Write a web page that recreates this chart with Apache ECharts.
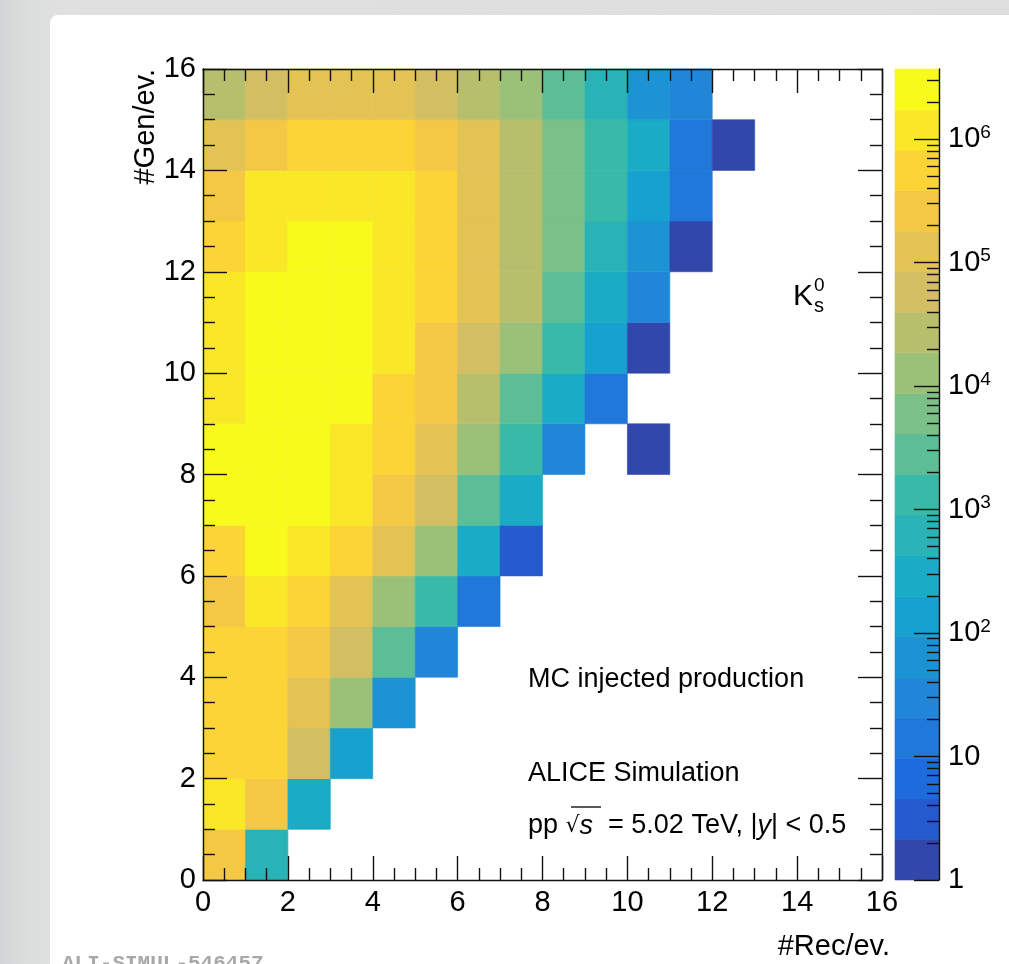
<!DOCTYPE html>
<html>
<head>
<meta charset="utf-8">
<script src="https://cdn.jsdelivr.net/npm/echarts@6/dist/echarts.min.js"></script>
<style>
html,body{margin:0;padding:0;width:1009px;height:964px;overflow:hidden;
  background:linear-gradient(90deg,#d4d5d6 0px,#dcdddd 30px,#e0e0e0 60px,#dedede 100%);}
#panel{position:absolute;left:50px;top:15px;width:1000px;height:1000px;background:#fff;border-radius:8px;}
#c{position:absolute;left:0;top:0;width:1009px;height:964px;}
</style>
</head>
<body>
<div id="panel"></div>
<div id="c"></div>
<script>
// ---- data: counts per event-multiplicity bin, one array per #Gen/ev. row (index = #Rec/ev. bin) ----
const gen15 = [27000, 58000, 124000, 124000, 124000, 58000, 27000, 12800, 2800, 620, 64, 30];
const gen14 = [124000, 264000, 560000, 560000, 560000, 264000, 124000, 27000, 6000, 1300, 290, 14, 1];
const gen13 = [264000, 1200000, 1200000, 1200000, 1200000, 560000, 124000, 27000, 6000, 1300, 137, 14];
const gen12 = [560000, 1200000, 2500000, 2500000, 1200000, 560000, 124000, 27000, 6000, 620, 64, 1];
const gen11 = [1200000, 2500000, 2500000, 2500000, 1200000, 560000, 124000, 27000, 2800, 290, 30];
const gen10 = [1200000, 2500000, 2500000, 2500000, 1200000, 264000, 58000, 12800, 1300, 137, 1];
const gen9  = [1200000, 2500000, 2500000, 2500000, 560000, 264000, 27000, 2800, 290, 14];
const gen8  = [2500000, 2500000, 2500000, 1200000, 560000, 124000, 12800, 1300, 30, null, 1];
const gen7  = [2500000, 2500000, 2500000, 1200000, 264000, 58000, 2800, 290];
const gen6  = [560000, 2500000, 1200000, 560000, 124000, 12800, 290, 3];
const gen5  = [264000, 1200000, 560000, 124000, 12800, 1300, 14];
const gen4  = [560000, 560000, 264000, 58000, 2800, 30];
const gen3  = [560000, 560000, 124000, 12800, 64];
const gen2  = [560000, 560000, 58000, 137];
const gen1  = [1200000, 264000, 290];
const gen0  = [264000, 620];
const genRows = [gen0, gen1, gen2, gen3, gen4, gen5, gen6, gen7, gen8, gen9, gen10, gen11, gen12, gen13, gen14, gen15];

const zMin = 1;            // colour scale minimum
const zMax = 3.7e6;        // colour scale maximum
const nContours = 20;      // number of colour bands
const zDecades = [0, 1, 2, 3, 4, 5, 6];   // colour axis labels: 10^n

// ---- derived ----
const LOG_MIN = Math.log10(zMin), LOG_MAX = Math.log10(zMax);
const BW = (LOG_MAX - LOG_MIN) / nContours;

// ROOT kBird palette
const stops = [0.0, 0.125, 0.25, 0.375, 0.5, 0.625, 0.75, 0.875, 1.0];
const pr = [0.2082, 0.0592, 0.0780, 0.0232, 0.1802, 0.5301, 0.8186, 0.9956, 0.9764];
const pg = [0.1664, 0.3599, 0.5041, 0.6419, 0.7178, 0.7492, 0.7328, 0.7862, 0.9832];
const pb = [0.5293, 0.8684, 0.8385, 0.7914, 0.6425, 0.4662, 0.3499, 0.1968, 0.0539];
function bird(t) {
  let i = 0;
  while (i < stops.length - 2 && t > stops[i + 1]) i++;
  const f = (t - stops[i]) / (stops[i + 1] - stops[i]);
  const c = a => Math.round(14 + 0.94 * 255 * (a[i] + f * (a[i + 1] - a[i])));
  return 'rgb(' + c(pr) + ',' + c(pg) + ',' + c(pb) + ')';
}
function bandColor(k) {
  const idx = Math.floor((k + 0.99) * 255 / nContours);
  return bird(Math.min(1, idx / 254));
}
const pieces = [];
for (let k = 0; k < nContours; k++) {
  const p = { gte: LOG_MIN + k * BW, color: bandColor(k) };
  if (k < nContours - 1) p.lt = LOG_MIN + (k + 1) * BW; else p.lte = LOG_MAX + 1;
  pieces.push(p);
}

const heatData = [];
genRows.forEach((row, y) => row.forEach((v, x) => {
  if (v != null && v > 0) heatData.push([x, y, Math.log10(v)]);
}));
const barData = [];
for (let k = 0; k < nContours; k++) barData.push([LOG_MIN + k * BW, LOG_MIN + (k + 1) * BW, LOG_MIN + (k + 0.5) * BW]);

const minorLogTicks = [];
for (let n = 0; n <= 6; n++) for (let m = 2; m <= 9; m++) {
  const l = n + Math.log10(m);
  if (l < LOG_MAX) minorLogTicks.push(l);
}

const FONT = 'Liberation Sans, Arial, Helvetica, sans-serif';
const INK = '#111';
const lineS = { color: INK, width: 1.4 };

function mainAxis(pos, labels, gridIndex) {
  return {
    type: 'value', gridIndex: gridIndex, position: pos, min: 0, max: 16, interval: 2, z: 5,
    axisLine: { show: true, onZero: false, lineStyle: lineS },
    axisTick: { show: true, inside: true, length: 24, lineStyle: lineS },
    minorTick: { show: true, splitNumber: 4, length: 12, lineStyle: lineS },
    splitLine: { show: false }, minorSplitLine: { show: false },
    axisLabel: { show: labels, fontSize: 29, color: '#000', fontFamily: FONT,
      margin: (pos === 'left' ? 7 : 8) }
  };
}

const chart = echarts.init(document.getElementById('c'), null, { renderer: 'canvas' });
chart.setOption({
  animation: false,
  backgroundColor: 'transparent',
  grid: [
    { left: 203, top: 69, width: 679, height: 811, outerBoundsMode: 'none', containLabel: false },
    { left: 895, top: 69, width: 44, height: 811, outerBoundsMode: 'none', containLabel: false }
  ],
  xAxis: [
    mainAxis('bottom', true, 0),
    mainAxis('top', false, 0),
    { type: 'value', gridIndex: 1, min: 0, max: 1, show: false }
  ],
  yAxis: [
    mainAxis('left', true, 0),
    mainAxis('right', false, 0),
    {
      type: 'value', gridIndex: 1, position: 'right', min: LOG_MIN, max: LOG_MAX, z: 5,
      axisLine: { show: true, onZero: false, lineStyle: lineS },
      axisTick: { show: true, inside: true, length: 25, lineStyle: lineS, customValues: zDecades },
      splitLine: { show: false },
      axisLabel: {
        show: true, margin: 9, customValues: zDecades, color: '#000', fontFamily: FONT,
        formatter: v => v === 0 ? '{b|1}' : (v === 1 ? '{b|10}' : '{b|10}{s|' + v + '}'),
        rich: {
          b: { fontSize: 29, fontFamily: FONT, color: '#000', lineHeight: 32 },
          s: { fontSize: 19, fontFamily: FONT, color: '#000', verticalAlign: 'top', lineHeight: 19 }
        }
      }
    },
    {
      // minor log ticks of the colour axis: a left-type axis shifted onto the right edge of the bar
      type: 'value', gridIndex: 1, position: 'left', offset: -44, min: LOG_MIN, max: LOG_MAX, z: 5,
      axisLine: { show: false, onZero: false },
      axisTick: { show: true, inside: false, length: 12, lineStyle: lineS, customValues: minorLogTicks },
      axisLabel: { show: false }, splitLine: { show: false }
    }
  ],
  visualMap: {
    type: 'piecewise', show: false, dimension: 2, seriesIndex: [0, 1], pieces: pieces
  },
  series: [
    {
      type: 'custom', xAxisIndex: 0, yAxisIndex: 0, data: heatData, silent: true,
      encode: { x: 0, y: 1 },
      renderItem: function (params, api) {
        const x = api.value(0), y = api.value(1);
        const a = api.coord([x, y + 1]), b = api.coord([x + 1, y]);
        const col = api.visual('color');
        return { type: 'rect', shape: { x: a[0], y: a[1], width: b[0] - a[0], height: b[1] - a[1] },
          style: { fill: col, stroke: col, lineWidth: 0.6 } };
      }
    },
    {
      type: 'custom', xAxisIndex: 2, yAxisIndex: 2, data: barData, silent: true,
      encode: { y: [0, 1] },
      renderItem: function (params, api) {
        const a = api.coord([0, api.value(0)]), b = api.coord([1, api.value(1)]);
        const col = api.visual('color');
        return { type: 'rect', shape: { x: a[0], y: b[1], width: b[0] - a[0], height: a[1] - b[1] },
          style: { fill: col, stroke: col, lineWidth: 0.6 } };
      }
    }
  ],
  graphic: [
    { type: 'text', x: 146, y: 69, rotation: Math.PI / 2, z: 10,
      style: { text: '#Gen/ev.', font: '29px ' + FONT, fill: '#000', align: 'right', verticalAlign: 'middle' } },
    { type: 'text', x: 890, y: 947, z: 10,
      style: { text: '#Rec/ev.', font: '29px ' + FONT, fill: '#000', align: 'right', verticalAlign: 'middle' } },
    { type: 'text', x: 793, y: 297, z: 10,
      style: { text: 'K', font: '30px ' + FONT, fill: '#000', align: 'left', verticalAlign: 'middle' } },
    { type: 'text', x: 814, y: 286, z: 10,
      style: { text: '0', font: '19px ' + FONT, fill: '#000', align: 'left', verticalAlign: 'middle' } },
    { type: 'text', x: 814, y: 306, z: 10,
      style: { text: 's', font: '20px ' + FONT, fill: '#000', align: 'left', verticalAlign: 'middle' } },
    { type: 'text', x: 528, y: 680, z: 10,
      style: { text: 'MC injected production', font: '27px ' + FONT, fill: '#000', align: 'left', verticalAlign: 'middle' } },
    { type: 'text', x: 528, y: 774, z: 10,
      style: { text: 'ALICE Simulation', font: '27px ' + FONT, fill: '#000', align: 'left', verticalAlign: 'middle' } },
    { type: 'text', x: 528, y: 826, z: 10,
      style: {
        text: '{t|pp }{r|√}{i|s}{t|  = 5.02 TeV, |}{i|y}{t|| < 0.5}',
        fill: '#000', align: 'left', verticalAlign: 'middle',
        rich: {
          t: { fontSize: 27, fontFamily: FONT, fill: '#000' },
          r: { fontSize: 22, fontFamily: 'DejaVu Sans', fill: '#000' },
          i: { fontSize: 27, fontFamily: FONT, fontStyle: 'italic', fill: '#000' }
        }
      } },
    { type: 'line', z: 10, shape: { x1: 571, y1: 807, x2: 601, y2: 807 }, style: { stroke: '#000', lineWidth: 1.3 } },
    { type: 'text', x: 62, y: 953, z: 10,
      style: { text: 'ALI-SIMUL-546457', font: 'bold 21px Liberation Mono, DejaVu Sans Mono, monospace', fill: '#a8a8a8', align: 'left', verticalAlign: 'top' } }
  ]
});
</script>
</body>
</html>
